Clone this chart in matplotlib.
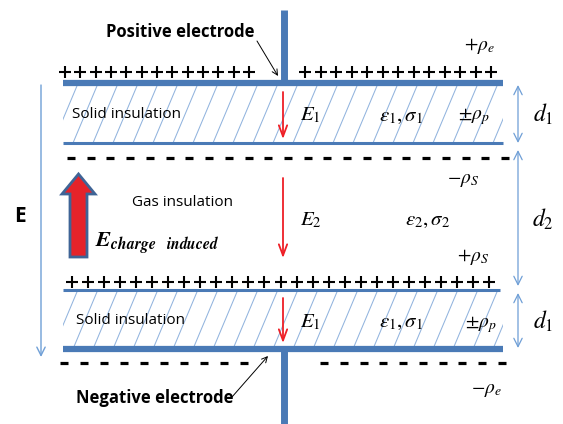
import matplotlib
matplotlib.use('Agg')
import matplotlib.pyplot as plt
import matplotlib.patches as mpatches
import numpy as np

plt.rcParams['font.family'] = ['Open Sans', 'DejaVu Sans']
plt.rcParams['mathtext.fontset'] = 'stix'

# layer boundaries (pixel rows, top to bottom)
layer_y = [83, 143, 290, 349]
layer_names = ['Solid insulation', 'Gas insulation', 'Solid insulation']
layer_field = [r'$E_1$', r'$E_2$', r'$E_1$']
layer_props = [r'$\varepsilon_1,\sigma_1$', r'$\varepsilon_2,\sigma_2$', r'$\varepsilon_1,\sigma_1$']
layer_thick = [r'$d_1$', r'$d_2$', r'$d_1$']
charge_labels = [r'$+\rho_e$', r'$\pm\rho_p$', r'$-\rho_S$', r'$+\rho_S$', r'$\pm\rho_p$', r'$-\rho_e$']
electrode_labels = ['Positive electrode', 'Negative electrode']

blue = '#4a7ab6'
light = '#6f9fd6'
red = '#ee1f26'

fig = plt.figure(figsize=(5.63, 4.24), dpi=100)
ax = fig.add_axes([0, 0, 1, 1])
ax.set_xlim(0, 563)
ax.set_ylim(424, 0)
ax.axis('off')

x0, x1 = 63, 503

# hatched solid layers
for ya, yb in [(layer_y[0], layer_y[1]), (layer_y[2], layer_y[3])]:
    box = mpatches.Rectangle((x0, ya), x1 - x0, yb - ya, facecolor='none', edgecolor='none')
    ax.add_patch(box)
    h = yb - ya
    for xs in np.arange(x0 - 30, x1 + 10, 20):
        ln, = ax.plot([xs, xs + h * 0.42], [yb, ya], color='#92b4de', lw=0.75)
        ln.set_clip_path(box)

# plates
ax.plot([x0, x1], [layer_y[0], layer_y[0]], color=blue, lw=4.5, solid_capstyle='butt')
ax.plot([x0, x1], [layer_y[1], layer_y[1]], color=blue, lw=2.2, solid_capstyle='butt')
ax.plot([x0, 500], [layer_y[2], layer_y[2]], color=blue, lw=2.2, solid_capstyle='butt')
ax.plot([x0, x1], [layer_y[3], layer_y[3]], color=blue, lw=4.5, solid_capstyle='butt')
# electrode leads
ax.plot([283.5, 283.5], [10, layer_y[0]], color=blue, lw=5, solid_capstyle='butt')
ax.plot([283.5, 283.5], [layer_y[3], 424], color=blue, lw=5, solid_capstyle='butt')

# charges
pk = dict(ls='none', color='black', marker='+', ms=8.5, mew=1.5)
dk = dict(ls='none', color='black', marker='_', ms=6, mew=2.3)
ax.plot(np.linspace(65, 249, 13), [72] * 13, **pk)
ax.plot(np.linspace(305, 491, 13), [72] * 13, **pk)
ax.plot(np.linspace(71, 505, 23), [158] * 23, **dk)
ax.plot(np.linspace(72, 489, 27), [282] * 27, **pk)
ax.plot(np.linspace(64, 244, 10), [363] * 10, **dk)
ax.plot(np.linspace(324, 502, 10), [363] * 10, **dk)

# field arrows in each layer
for ya, yb in [(92, 139), (178, 258), (298, 343)]:
    ax.annotate('', xy=(283, yb), xytext=(283, ya),
                arrowprops=dict(arrowstyle='->,head_length=0.8,head_width=0.3', color=red, lw=1.3,
                                shrinkA=0, shrinkB=0))

mid = [115, 220, 322]
for i, ym in enumerate(mid):
    ax.text(300, ym, layer_field[i], fontsize=15, va='center', ha='left')
    ax.text(401 if i != 1 else 428, ym, layer_props[i], fontsize=15, va='center', ha='center')
    ax.text(543, ym, layer_thick[i], fontsize=17, va='center', ha='center')

ax.text(127, 115, layer_names[0], fontsize=11, ha='center', va='center')
ax.text(183, 202, layer_names[1], fontsize=11, ha='center', va='center')
ax.text(130, 321, layer_names[2], fontsize=11, ha='center', va='center')

ax.text(479, 46, charge_labels[0], fontsize=14, ha='center', va='center')
ax.text(474, 117, charge_labels[1], fontsize=14, ha='center', va='center')
ax.text(463, 180, charge_labels[2], fontsize=14, ha='center', va='center')
ax.text(473, 257, charge_labels[3], fontsize=14, ha='center', va='center')
ax.text(481, 325, charge_labels[4], fontsize=14, ha='center', va='center')
ax.text(486, 390, charge_labels[5], fontsize=14, ha='center', va='center')

# thickness markers
for ya, yb in [(85, 143), (150, 286), (293, 348)]:
    ax.annotate('', xy=(518, yb), xytext=(518, ya),
                arrowprops=dict(arrowstyle='<->,head_length=0.6,head_width=0.3', color=light, lw=0.9,
                                shrinkA=0, shrinkB=0))

# overall field E
ax.annotate('', xy=(41, 357), xytext=(41, 85),
            arrowprops=dict(arrowstyle='->,head_length=0.6,head_width=0.3', color=light, lw=1,
                            shrinkA=0, shrinkB=0))
ax.text(20, 216, 'E', fontsize=15, fontweight='bold', ha='center', va='center')

# induced field arrow
ax.add_patch(mpatches.FancyArrow(78.5, 257, 0, -83, width=17, head_width=33, head_length=20,
                                 length_includes_head=True, facecolor='#e5232a',
                                 edgecolor='#3f6496', lw=2))
ax.text(95, 244, r'$\mathbfit{E}_{\mathbfit{charge}\quad\mathbfit{induced}}$', fontsize=16,
        ha='left', va='center')

# electrode labels
ax.text(180, 32, electrode_labels[0], fontsize=12, fontweight='bold', ha='center', va='center')
ax.annotate('', xy=(278, 76), xytext=(257, 41),
            arrowprops=dict(arrowstyle='->', color='black', lw=0.7, shrinkA=0, shrinkB=0))
ax.text(155, 398, electrode_labels[1], fontsize=12, fontweight='bold', ha='center', va='center')
ax.annotate('', xy=(268, 356), xytext=(232, 397),
            arrowprops=dict(arrowstyle='->', color='black', lw=0.7, shrinkA=0, shrinkB=0))

fig.savefig('out.png', dpi=100)
